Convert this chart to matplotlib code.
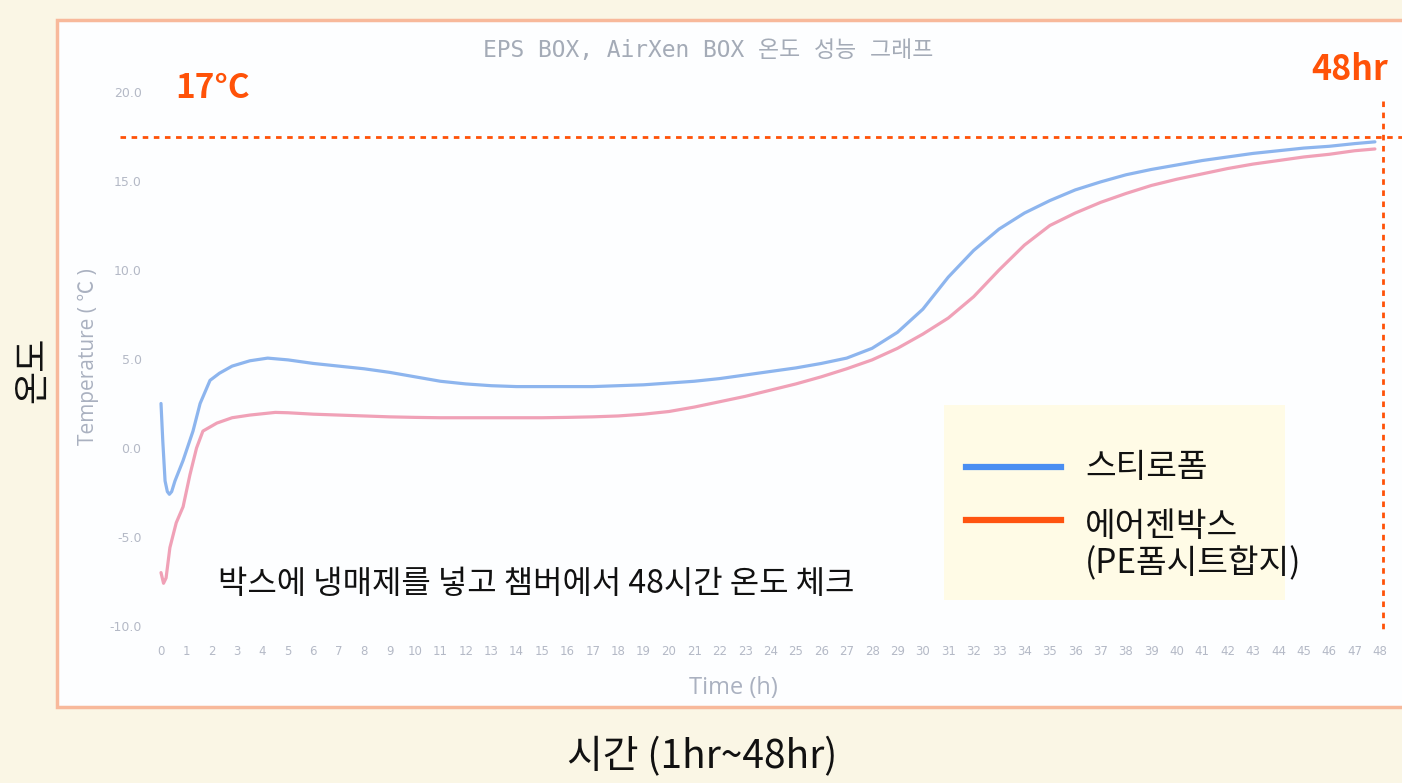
import numpy as np
import matplotlib
matplotlib.use("Agg")
import matplotlib.pyplot as plt
from matplotlib.patches import Rectangle

plt.rcParams['font.family'] = ['Noto Sans CJK KR', 'DejaVu Sans']

# data
eps_hours = [0, 0.07, 0.16, 0.25, 0.33, 0.42, 0.55, 0.87, 1.26, 1.54, 1.93, 2.3, 2.8, 3.5,
             4.2, 5, 6, 7, 8, 9, 10, 11, 12, 13, 14, 15, 16, 17, 18, 19, 20, 21, 22, 23, 24,
             25, 26, 27, 28, 29, 30, 31, 32, 33, 34, 35, 36, 37, 38, 39, 40, 41, 42, 43, 44,
             45, 46, 47, 47.8]
eps_temp = [2.5, 0.4, -1.85, -2.45, -2.6, -2.45, -1.85, -0.7, 0.95, 2.5, 3.8, 4.2, 4.6, 4.9,
            5.05, 4.95, 4.75, 4.6, 4.45, 4.25, 4.0, 3.75, 3.6, 3.5, 3.45, 3.45, 3.45, 3.45,
            3.5, 3.55, 3.65, 3.75, 3.9, 4.1, 4.3, 4.5, 4.75, 5.05, 5.6, 6.5, 7.8, 9.6, 11.1,
            12.3, 13.2, 13.9, 14.5, 14.95, 15.35, 15.65, 15.9, 16.15, 16.35, 16.55, 16.7,
            16.85, 16.95, 17.1, 17.2]

airxen_hours = [0, 0.1, 0.2, 0.35, 0.6, 0.87, 1.14, 1.4, 1.65, 2.2, 2.8, 3.5, 4.5, 5, 6, 7,
                8, 9, 10, 11, 12, 13, 14, 15, 16, 17, 18, 19, 20, 21, 22, 23, 24, 25, 26,
                27, 28, 29, 30, 31, 32, 33, 34, 35, 36, 37, 38, 39, 40, 41, 42, 43, 44, 45,
                46, 47, 47.8]
airxen_temp = [-7.0, -7.6, -7.3, -5.6, -4.2, -3.3, -1.5, 0.0, 0.95, 1.4, 1.7, 1.85, 2.0,
               1.98, 1.9, 1.85, 1.8, 1.75, 1.72, 1.7, 1.7, 1.7, 1.7, 1.7, 1.72, 1.75, 1.8,
               1.9, 2.05, 2.3, 2.6, 2.9, 3.25, 3.6, 4.0, 4.45, 4.95, 5.6, 6.4, 7.3, 8.5,
               10.0, 11.4, 12.5, 13.2, 13.8, 14.3, 14.75, 15.1, 15.4, 15.7, 15.95, 16.15,
               16.35, 16.5, 16.7, 16.8]

y_ticks = [-10, -5, 0, 5, 10, 15, 20]
x_ticks = list(range(0, 49))
legend_labels = ['스티로폼', '에어젠박스\n(PE폼시트합지)']

W, H = 1402, 783
fig = plt.figure(figsize=(W / 100, H / 100), dpi=100)
fig.patch.set_facecolor('#faf6e5')


def fx(px):
    return px / W


def fy(py):
    return 1 - py / H


# white panel with salmon border
fig.patches.append(Rectangle((fx(57), fy(707)), fx(1420) - fx(57), fy(20) - fy(707),
                             transform=fig.transFigure, facecolor='#fdfeff',
                             edgecolor='#f8b99b', linewidth=2.5, zorder=-5))

ax = fig.add_axes([fx(161), fy(626), fx(1380) - fx(161), fy(92) - fy(626)])
ax.set_facecolor('none')
ax.set_xlim(0, 48)
ax.set_ylim(-10, 20)
for s in ax.spines.values():
    s.set_visible(False)

ax.plot(eps_hours, eps_temp, color='#8db5ee', lw=2.3, solid_joinstyle='round',
        solid_capstyle='round', clip_on=False)
ax.plot(airxen_hours, airxen_temp, color='#f0a1b7', lw=2.3, solid_joinstyle='round',
        solid_capstyle='round', clip_on=False)

ax.set_yticks(y_ticks)
ax.set_yticklabels(['%.1f' % v for v in y_ticks], fontsize=9, color='#b4b9c6',
                   family='DejaVu Sans')
ax.set_xticks(x_ticks)
ax.set_xticklabels([str(v) for v in x_ticks], fontsize=8.5, color='#b4b9c6',
                   family='DejaVu Sans')
ax.tick_params(axis='y', length=0, pad=14)
ax.tick_params(axis='x', length=0, pad=14)

# title and axis titles of the original screenshot
fig.text(fx(708), fy(50), 'EPS BOX, AirXen BOX 온도 성능 그래프', ha='center', va='center',
         fontsize=16.5, color='#a4abb7', family=['DejaVu Sans Mono', 'Noto Sans CJK KR'])
fig.text(fx(88), fy(357), 'Temperature ( ℃ )', rotation=90, ha='center', va='center',
         fontsize=15, color='#aab1c0', family=['Open Sans', 'Noto Sans CJK KR'])
fig.text(fx(733), fy(688), 'Time (h)', ha='center', va='center',
         fontsize=17, color='#aab1c0', family=['Open Sans'])

# 17 degree / 48 hour guide lines
orange = '#ff5208'
ax.plot([-1.62, 48.9], [17.47, 17.47], color=orange, lw=2, ls=(0, (2, 2)), clip_on=False)
ax.plot([48.1, 48.1], [19.5, -10.4], color=orange, lw=2, ls=(0, (2, 2)), clip_on=False)
fig.text(fx(175), fy(88), '17°C', ha='left', va='center', fontsize=24, color=orange,
         fontweight='bold')
fig.text(fx(1388), fy(70), '48hr', ha='right', va='center', fontsize=24.5, color=orange,
         fontweight='bold')

fig.text(fx(218), fy(584), '박스에 냉매제를 넣고 챔버에서 48시간 온도 체크', ha='left',
         va='center', fontsize=23, color='#111111')

# legend box
fig.patches.append(Rectangle((fx(944), fy(600)), fx(1285) - fx(944), fy(405) - fy(600),
                             transform=fig.transFigure, facecolor='#fffbe6',
                             edgecolor='none', zorder=3))
legend_colors = ['#4a8ef2', '#ff5410']
legend_y = [467, 520]
legend_text_y = [467, 545]
for lab, col, ly, ty in zip(legend_labels, legend_colors, legend_y, legend_text_y):
    fig.add_artist(plt.Line2D([fx(966), fx(1061)], [fy(ly), fy(ly)], color=col, lw=4.5,
                              transform=fig.transFigure, zorder=4))
    fig.text(fx(1085), fy(ty), lab, ha='left', va='center', fontsize=24,
             color='#111111', linespacing=1.1, zorder=5)

fig.text(fx(702), fy(757), '시간 (1hr~48hr)', ha='center', va='center', fontsize=28,
         color='#111111')
fig.text(fx(33), fy(370), '온도', rotation=90, ha='center', va='center', fontsize=26,
         color='#111111')

fig.savefig('out.png', dpi=100, facecolor=fig.get_facecolor())
